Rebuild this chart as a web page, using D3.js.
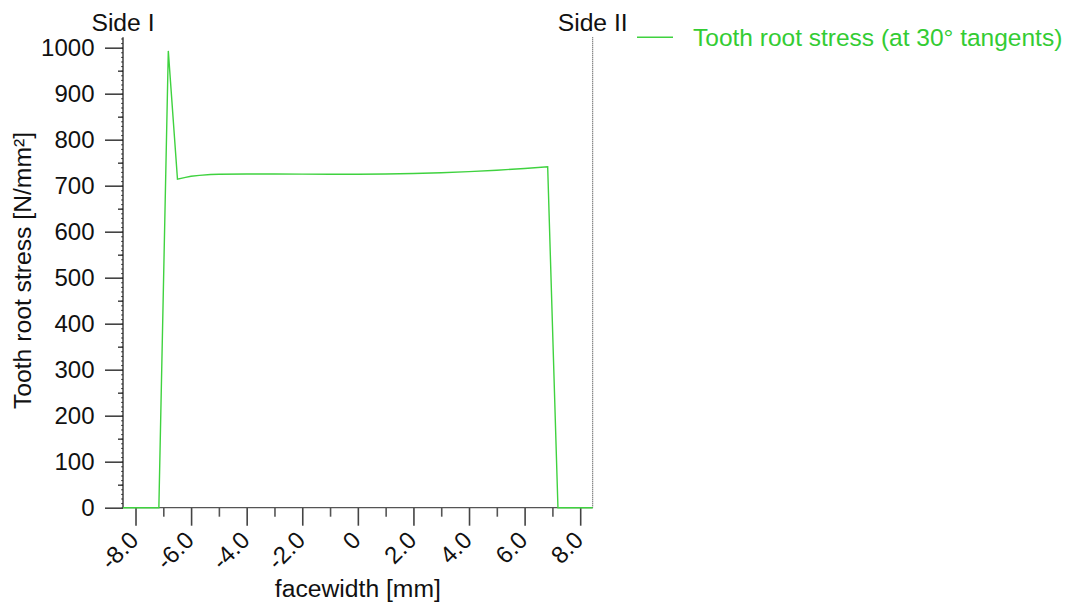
<!DOCTYPE html>
<html>
<head>
<meta charset="utf-8">
<script src="https://cdn.jsdelivr.net/npm/d3@7"></script>
<style>
  html, body { margin: 0; padding: 0; background: #fff; }
  svg { display: block; font-family: "Liberation Sans", Arial, sans-serif; }
</style>
</head>
<body>
<svg id="chart" width="1074" height="606"></svg>
<script>
// ---- data ----
const faceX = [-8.45, -7.16, -6.82, -6.49, -6.2, -6.0, -5.7, -5.3, -5.0, -4.0, -3.0, -2.0, -1.0, 0.0, 1.0, 2.0, 3.0, 4.0, 5.0, 6.0, 6.83, 7.2, 8.45];
const stress = [0, 0, 993, 714, 718, 720.5, 722.5, 724.3, 725, 725.4, 725.4, 725.2, 725, 725, 725.5, 726.5, 728, 730.5, 733.5, 737.5, 741, 0, 0];
const seriesName = "Tooth root stress (at 30° tangents)";
const xDomain = [-8.45, 8.45];
const yDomain = [0, 1022.6];
const xMajorTicks = [-8, -6, -4, -2, 0, 2, 4, 6, 8];
const xMajorLabels = ["-8.0", "-6.0", "-4.0", "-2.0", "0", "2.0", "4.0", "6.0", "8.0"];
const xMinorTicks = [-7, -5, -3, -1, 1, 3, 5, 7];
const yMajorTicks = [0, 100, 200, 300, 400, 500, 600, 700, 800, 900, 1000];
const yMajorLabels = ["0", "100", "200", "300", "400", "500", "600", "700", "800", "900", "1000"];
const yMidTicks = [50, 150, 250, 350, 450, 550, 650, 750, 850, 950];
const yTinyTicks = d3.range(0, 1021, 10);
const sideLabels = ["Side I", "Side II"];
const xTitle = "facewidth [mm]";
const yTitle = "Tooth root stress [N/mm²]";

// ---- layout ----
const L = 123, R = 592.7, T = 37.3, B = 507.7;
const green = "#3fd23f";
const svg = d3.select("#chart");

const x = d3.scaleLinear().domain(xDomain).range([L, R]);
const y = d3.scaleLinear().domain(yDomain).range([B, T]);

// tiny y ticks
svg.append("g").attr("transform", `translate(${L},0)`)
  .call(d3.axisLeft(y).tickValues(yTinyTicks).tickSize(2).tickFormat(""))
  .call(g => g.select(".domain").remove())
  .call(g => g.selectAll("line").attr("stroke", "#555").attr("stroke-width", 1));

// mid y ticks
svg.append("g").attr("transform", `translate(${L},0)`)
  .call(d3.axisLeft(y).tickValues(yMidTicks).tickSize(5).tickFormat(""))
  .call(g => g.select(".domain").remove())
  .call(g => g.selectAll("line").attr("stroke", "#444").attr("stroke-width", 1.5));

// major y ticks
const yAx = svg.append("g").attr("transform", `translate(${L},0)`)
  .call(d3.axisLeft(y).tickValues(yMajorTicks).tickSize(18).tickPadding(10.5)
    .tickFormat((d, i) => yMajorLabels[i]))
  .call(g => g.select(".domain").remove());
yAx.selectAll("line").attr("stroke", "#444").attr("stroke-width", 1.6);
yAx.selectAll("text").attr("font-size", 24).attr("fill", "#111")
  .attr("font-family", "'Liberation Sans', Arial, sans-serif");

// y axis line
svg.append("line").attr("x1", L).attr("x2", L).attr("y1", T).attr("y2", B)
  .attr("stroke", "#111").attr("stroke-width", 1.2);

// x minor ticks
svg.append("g").attr("transform", `translate(0,${B})`)
  .call(d3.axisBottom(x).tickValues(xMinorTicks).tickSize(9).tickFormat(""))
  .call(g => g.select(".domain").remove())
  .call(g => g.selectAll("line").attr("stroke", "#555").attr("stroke-width", 1.6));

// x major ticks
const xAx = svg.append("g").attr("transform", `translate(0,${B})`)
  .call(d3.axisBottom(x).tickValues(xMajorTicks).tickSize(18)
    .tickFormat((d, i) => xMajorLabels[i]))
  .call(g => g.select(".domain").remove());
xAx.selectAll("line").attr("stroke", "#444").attr("stroke-width", 1.6);
xAx.selectAll("text")
  .attr("font-size", 24).attr("fill", "#111")
  .attr("font-family", "'Liberation Sans', Arial, sans-serif")
  .attr("x", 0).attr("y", 0).attr("dy", "0.35em")
  .attr("text-anchor", "end")
  .attr("transform", "translate(-2,28) rotate(-45)");

// x axis line
svg.append("line").attr("x1", L).attr("x2", R).attr("y1", B).attr("y2", B)
  .attr("stroke", "#555").attr("stroke-width", 1.2);

// right dotted line (Side II)
svg.append("line").attr("x1", R).attr("x2", R).attr("y1", T).attr("y2", B)
  .attr("stroke", "#333").attr("stroke-width", 1).attr("stroke-dasharray", "1,1");

// data line
const pts = faceX.map((v, i) => [v, stress[i]]);
svg.append("path").datum(pts)
  .attr("fill", "none").attr("stroke", green).attr("stroke-width", 1.4)
  .attr("stroke-linejoin", "miter")
  .attr("d", d3.line().x(d => x(d[0])).y(d => y(d[1])));

// side labels
svg.append("text").attr("x", x(xDomain[0])).attr("y", 31).attr("text-anchor", "middle")
  .attr("font-size", 24.7).attr("fill", "#111").text(sideLabels[0]);
svg.append("text").attr("x", x(xDomain[1])).attr("y", 31).attr("text-anchor", "middle")
  .attr("font-size", 24.7).attr("fill", "#111").text(sideLabels[1]);

// axis titles
svg.append("text").attr("x", (L + R) / 2).attr("y", 597).attr("text-anchor", "middle")
  .attr("font-size", 24.7).attr("fill", "#111").text(xTitle);
svg.append("text").attr("transform", `translate(31,${(T + B) / 2 - 2}) rotate(-90)`)
  .attr("text-anchor", "middle").attr("font-size", 24.7).attr("fill", "#111").text(yTitle);

// legend
svg.append("line").attr("x1", 637).attr("x2", 673).attr("y1", 37.3).attr("y2", 37.3)
  .attr("stroke", green).attr("stroke-width", 1.4);
svg.append("text").attr("x", 693).attr("y", 46).attr("font-size", 24.5)
  .attr("fill", "#33cc33").text(seriesName);
</script>
</body>
</html>
